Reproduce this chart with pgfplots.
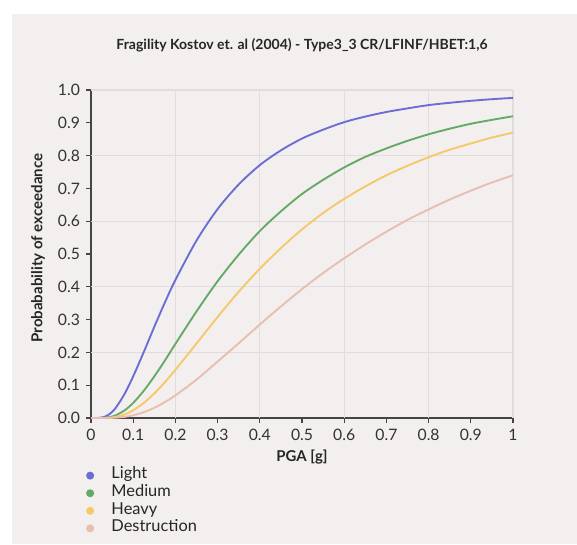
\documentclass[border=0pt]{standalone}
\usepackage{pgfplots}
\pgfplotsset{compat=1.18}
\usepackage{fontspec}
\setmainfont{Lato}

\definecolor{panel}{HTML}{F2EFEE}
\definecolor{gridc}{HTML}{E2DDDC}
\definecolor{axisc}{HTML}{444444}
\definecolor{clight}{HTML}{6C6CD6}
\definecolor{cmedium}{HTML}{64AA64}
\definecolor{cheavy}{HTML}{F5C86A}
\definecolor{cdestr}{HTML}{E8BEB0}

\begin{document}
\begin{tikzpicture}
\useasboundingbox (-68.25pt,-94.5pt) rectangle (364.5pt,313.5pt);
\fill[white] (-68.25pt,-94.5pt) rectangle (364.5pt,313.5pt);
\fill[panel] (-59.25pt,-94.5pt) rectangle (364.5pt,303pt);
\begin{axis}[
  at={(0,0)}, anchor=south west,
  scale only axis, width=316.5pt, height=246pt,
  xmin=0, xmax=1, ymin=0, ymax=1,
  axis lines=left, axis line style={-, axisc, line width=0.8pt},
  tick align=outside, major tick length=3.75pt,
  tick style={axisc, line width=0.8pt},
  xtick={0,0.1,...,1.01}, ytick={0,0.1,...,1.01},
  xticklabels={0,0.1,0.2,0.3,0.4,0.5,0.6,0.7,0.8,0.9,1},
  /pgf/number format/assume math mode=true,
  ticklabel style={font=\fontsize{11.8}{13}\selectfont, text=black!80},
  xticklabel style={yshift=-1pt},
  yticklabel style={/pgf/number format/fixed, /pgf/number format/fixed zerofill,
    /pgf/number format/precision=1, xshift=-1pt},
  extra x ticks={0.2,0.4,0.6,0.8,1}, extra y ticks={0.2,0.4,0.6,0.8,1},
  extra x tick labels={}, extra y tick labels={},
  extra tick style={grid=major, major tick length=0pt},
  grid style={gridc, line width=0.8pt},
  title={Fragility Kostov et. al (2004) - Type3\_3 CR/LFINF/HBET:1,6},
  title style={at={(axis description cs:0.5,1.113)}, anchor=center,
    font=\bfseries\fontsize{10.5}{12}\selectfont, text=black!85},
  xlabel={PGA [g]},
  xlabel style={at={(axis description cs:0.5,-0.119)}, anchor=center,
    font=\bfseries\fontsize{11.2}{13}\selectfont, text=black!85},
  ylabel={Probabability of exceedance},
  ylabel style={at={(axis description cs:-0.1256,0.518)}, anchor=center,
    font=\bfseries\fontsize{11.3}{13}\selectfont, text=black!85},
  legend image code/.code={\fill (0pt,0pt) circle (2.25pt);
    \path[draw=none, fill=none] (-2.3pt,0pt) rectangle (16pt,0.1pt);},
  legend cell align=left,
  legend style={at={(axis description cs:-0.012,-0.148)}, anchor=north west,
    draw=none, fill=none, inner sep=0pt, row sep=0pt,
    font=\fontsize{12.3}{13}\selectfont, text=black!85,
    nodes={inner sep=0pt, text height=9.1pt, text depth=4.1pt}},
  clip=false,
]
\addplot[clight, line width=1.4pt, smooth] coordinates {
(0,0) (0.02,0.0004) (0.03,0.0028) (0.04,0.0086) (0.05,0.0187) (0.06,0.0334)
(0.08,0.0744) (0.1,0.127) (0.125,0.201) (0.15,0.278) (0.175,0.352) (0.2,0.421)
(0.25,0.541) (0.3,0.637) (0.35,0.712) (0.4,0.771) (0.45,0.816) (0.5,0.852)
(0.55,0.879) (0.6,0.902) (0.65,0.919) (0.7,0.933) (0.75,0.944) (0.8,0.954)
(0.85,0.961) (0.9,0.967) (0.95,0.972) (1.0,0.976)};
\addlegendentry{Light}
\addplot[cmedium, line width=1.4pt, smooth] coordinates {
(0,0) (0.02,0.0001) (0.03,0.0005) (0.04,0.0018) (0.05,0.0045) (0.06,0.009)
(0.08,0.0237) (0.1,0.046) (0.125,0.083) (0.15,0.127) (0.175,0.175) (0.2,0.226)
(0.25,0.325) (0.3,0.417) (0.35,0.498) (0.4,0.570) (0.45,0.630) (0.5,0.683)
(0.55,0.726) (0.6,0.764) (0.65,0.796) (0.7,0.822) (0.75,0.845) (0.8,0.865)
(0.85,0.882) (0.9,0.897) (0.95,0.909) (1.0,0.920)};
\addlegendentry{Medium}
\addplot[cheavy, line width=1.4pt, smooth] coordinates {
(0,0) (0.02,0) (0.03,0.0002) (0.04,0.0006) (0.05,0.0017) (0.06,0.0037)
(0.08,0.011) (0.1,0.0235) (0.125,0.046) (0.15,0.075) (0.175,0.109) (0.2,0.147)
(0.25,0.227) (0.3,0.308) (0.35,0.385) (0.4,0.455) (0.45,0.518) (0.5,0.575)
(0.55,0.625) (0.6,0.668) (0.65,0.706) (0.7,0.740) (0.75,0.769) (0.8,0.795)
(0.85,0.818) (0.9,0.837) (0.95,0.855) (1.0,0.870)};
\addlegendentry{Heavy}
\addplot[cdestr, line width=1.4pt, smooth] coordinates {
(0,0) (0.02,0) (0.03,0) (0.04,0.0002) (0.05,0.0005) (0.06,0.0011)
(0.08,0.0035) (0.1,0.0082) (0.125,0.0177) (0.15,0.031) (0.175,0.0486) (0.2,0.069)
(0.25,0.117) (0.3,0.172) (0.35,0.228) (0.4,0.285) (0.45,0.340) (0.5,0.393)
(0.55,0.442) (0.6,0.487) (0.65,0.529) (0.7,0.568) (0.75,0.604) (0.8,0.636)
(0.85,0.666) (0.9,0.693) (0.95,0.718) (1.0,0.740)};
\addlegendentry{Destruction}
\end{axis}
\end{tikzpicture}
\end{document}
